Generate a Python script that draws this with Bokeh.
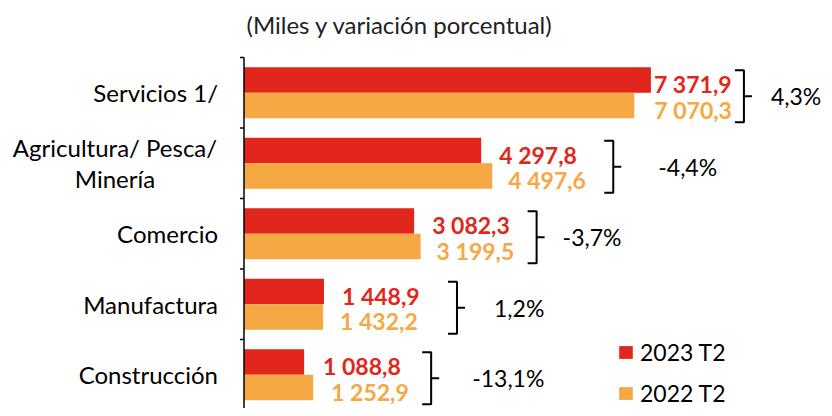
from bokeh.plotting import figure
from bokeh.models import ColumnDataSource, Legend, LegendItem, Range1d, Label
from bokeh.core.properties import value
from bokeh.embed import file_html
from bokeh.resources import INLINE

# ---- data ----
categories = ["Servicios 1/", "Agricultura/ Pesca/\nMinería", "Comercio", "Manufactura", "Construcción"]
val_2023 = [7371.9, 4297.8, 3082.3, 1448.9, 1088.8]
val_2022 = [7070.3, 4497.6, 3199.5, 1432.2, 1252.9]
var_pct = [4.3, -4.4, -3.7, 1.2, -13.1]
series_names = ["2023 T2", "2022 T2"]
subtitle = "(Miles y variación porcentual)"

# ---- style ----
RED = "#E1261C"
ORANGE = "#F5A843"
FONT = value("Lato")
W, H = 824, 408
TOP = 57                 # screen y of the top category boundary
AXIS_PX = 243.5          # screen x of the value axis
UX = 18.116              # data units per pixel
X0 = -AXIS_PX * UX
X1 = X0 + W * UX
PITCH = 70.5             # px per category
YTOP = 4.5
Y1 = YTOP + TOP / PITCH
Y0 = YTOP - (H - TOP) / PITCH
ux = UX
uy = 1.0 / PITCH
bar_h = 25.5 / PITCH
red_gap = [3, 18, 18, 18, 19]
orange_gap = [20, 16, 16, 17, 18]
brace_off = [93, 121, 116, 133, 118]
pct_gap = [27, 45, 26, 37, 41]
cat_xoff = [-26, -129, -26, -26, -26]
cat_align = ["right", "center", "right", "right", "right"]


def fmt(v):
    return f"{v:,.1f}".replace(",", " ").replace(".", ",")


def fmt_pct(v):
    return f"{v:.1f}".replace(".", ",") + "%"


n = len(categories)
ypos = [n - 1 - i for i in range(n)]

p = figure(width=W, height=H, output_backend="svg", toolbar_location=None,
           x_range=Range1d(X0, X1), y_range=Range1d(Y0, Y1),
           x_axis_location=None, y_axis_location=None, min_border=0,
           outline_line_color=None)
p.grid.visible = False

p.add_layout(Label(x=246, y=H - 24, x_units="screen", y_units="screen", text=subtitle,
                   text_font="Lato", text_font_size="24px", text_color="#222222",
                   text_baseline="middle", text_align="left"))

src = ColumnDataSource(dict(
    y_red=[y + bar_h / 2 for y in ypos],
    y_or=[y - bar_h / 2 for y in ypos],
    v23=val_2023, v22=val_2022,
    l23=[fmt(v) for v in val_2023], l22=[fmt(v) for v in val_2022],
    g23=red_gap, g22=orange_gap,
))

r_red = p.hbar(y="y_red", left=0, right="v23", height=bar_h, source=src,
               fill_color=RED, line_color=None)
r_or = p.hbar(y="y_or", left=0, right="v22", height=bar_h, source=src,
              fill_color=ORANGE, line_color=None)

p.text(x="v23", y="y_red", text="l23", x_offset="g23", y_offset=4, source=src,
       text_color=RED, text_font=FONT, text_font_size="23px", text_font_style="bold",
       text_baseline="middle", text_align="left")
p.text(x="v22", y="y_or", text="l22", x_offset="g22", y_offset=4, source=src,
       text_color=ORANGE, text_font=FONT, text_font_size="23px", text_font_style="bold",
       text_baseline="middle", text_align="left")

# category labels
cat_src = ColumnDataSource(dict(x=[0] * n, y=ypos, t=categories, xo=cat_xoff, al=cat_align))
p.text(x="x", y="y", text="t", x_offset="xo", y_offset=0, text_align="al", source=cat_src,
       text_font=FONT, text_font_size="24px", text_color="#000000",
       text_baseline="middle", text_line_height=1.08)

# axis line and boundary ticks
p.segment(x0=[0], y0=[Y0], x1=[0], y1=[YTOP], line_color="black", line_width=1.5)
bounds = [y + 0.5 for y in ypos]
p.segment(x0=[-4 * ux] * n, y0=bounds, x1=[0] * n, y1=bounds, line_color="black", line_width=1.5)

# braces + percentage
bx, by, tx0, tx1, ty, px = [], [], [], [], [], []
half = 26 * uy
for i in range(n):
    xv = max(val_2023[i], val_2022[i]) + brace_off[i] * ux
    yc = ypos[i] - 3.5 * uy
    bx.append([xv - 9 * ux, xv, xv, xv - 9 * ux])
    by.append([yc + half, yc + half, yc - half, yc - half])
    tx0.append(xv)
    tx1.append(xv + 8 * ux)
    ty.append(yc)
    px.append(xv + pct_gap[i] * ux)
p.multi_line(xs=bx, ys=by, line_color="black", line_width=2)
p.segment(x0=tx0, y0=ty, x1=tx1, y1=ty, line_color="black", line_width=2)
p.text(x=px, y=ty, text=[fmt_pct(v) for v in var_pct], text_font=FONT, text_font_size="23px",
       text_color="#000000", text_baseline="middle", text_align="left")

legend = Legend(items=[LegendItem(label=series_names[0], renderers=[r_red]),
                       LegendItem(label=series_names[1], renderers=[r_or])],
                location=(617, 1), glyph_width=17, glyph_height=16, label_standoff=6,
                spacing=13, padding=0, margin=0, border_line_alpha=0,
                background_fill_alpha=0, label_text_font="Lato",
                label_text_font_size="23px", label_text_color="#000000")
p.add_layout(legend)

open("out.html", "w").write(file_html(p, INLINE))
